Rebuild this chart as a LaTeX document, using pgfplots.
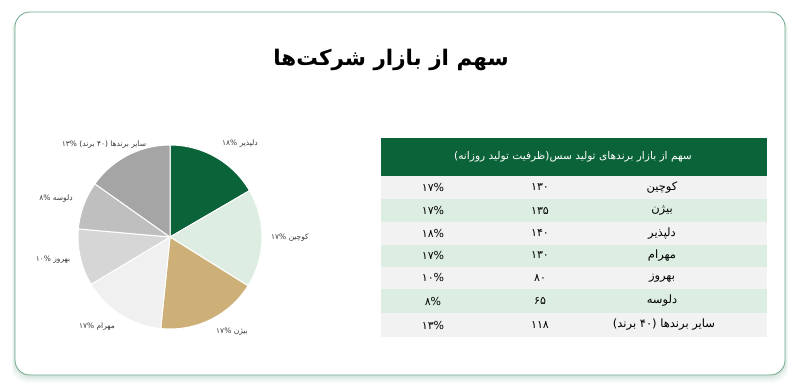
\documentclass[border=0pt]{standalone}
\usepackage{pgfplots}
\pgfplotsset{compat=1.18}
\usepackage{fontspec}
\setmainfont{DejaVu Sans}
\newfontfamily\fa[Script=Arabic]{DejaVu Sans}
\TeXXeTstate=1
\newcommand\lp{{\rmfamily(}}
\newcommand\rp{{\rmfamily)}}
\definecolor{dkgreen}{HTML}{0B6339}
\definecolor{ltgreen}{HTML}{DDEDE2}
\definecolor{tan}{HTML}{CDAF78}
\definecolor{g1}{HTML}{F0F0F0}
\definecolor{g2}{HTML}{D6D6D6}
\definecolor{g3}{HTML}{BFBFBF}
\definecolor{g4}{HTML}{A5A5A5}
\definecolor{rowgray}{HTML}{F2F2F2}
\definecolor{rowgreen}{HTML}{DCEDE2}
\definecolor{cardborder}{HTML}{6FA98A}
\definecolor{labelgray}{HTML}{3A3A3A}
\begin{document}
\begin{tikzpicture}[x=1pt,y=1pt]
\useasboundingbox (0,0) rectangle (800,389);
% card shadow and card
\foreach \i/\o in {8/0.03,6/0.04,4/0.05,2/0.06}{%
  \fill[dkgreen, opacity=\o, rounded corners=16] (15-\i*0.4,14-\i) rectangle (785+\i*0.4,377-\i*0.3);
}
\fill[white, draw=cardborder, line width=0.8pt, rounded corners=15] (15,14) rectangle (785,377);
% title
\node[font=\fa\bfseries\fontsize{21.5}{24}\selectfont] at (391,329) {\beginR سهم از بازار شرکت‌ها\endR};
% pie slice shares (percent of the circle)
\pgfmathsetmacro\aA{90}
\pgfmathsetmacro\aB{\aA-3.6*16.6}
\pgfmathsetmacro\aC{\aB-3.6*17.3}
\pgfmathsetmacro\aD{\aC-3.6*17.7}
\pgfmathsetmacro\aE{\aD-3.6*14.8}
\pgfmathsetmacro\aF{\aE-3.6*10.0}
\pgfmathsetmacro\aG{\aF-3.6*8.4}
\pgfmathsetmacro\aH{\aG-3.6*15.2}
\begin{axis}[at={(170pt,152pt)}, anchor=center, width=184pt, height=184pt,
  scale only axis, xmin=-1, xmax=1, ymin=-1, ymax=1, hide axis, clip=false, no markers]
\addplot[fill=dkgreen, draw=white, line width=1pt, domain=\aB:\aA, samples=60] ({cos(x)},{sin(x)}) -- (0,0) -- cycle;
\addplot[fill=ltgreen, draw=white, line width=1pt, domain=\aC:\aB, samples=60] ({cos(x)},{sin(x)}) -- (0,0) -- cycle;
\addplot[fill=tan, draw=white, line width=1pt, domain=\aD:\aC, samples=60] ({cos(x)},{sin(x)}) -- (0,0) -- cycle;
\addplot[fill=g1, draw=white, line width=1pt, domain=\aE:\aD, samples=60] ({cos(x)},{sin(x)}) -- (0,0) -- cycle;
\addplot[fill=g2, draw=white, line width=1pt, domain=\aF:\aE, samples=60] ({cos(x)},{sin(x)}) -- (0,0) -- cycle;
\addplot[fill=g3, draw=white, line width=1pt, domain=\aG:\aF, samples=60] ({cos(x)},{sin(x)}) -- (0,0) -- cycle;
\addplot[fill=g4, draw=white, line width=1pt, domain=\aH:\aG, samples=60] ({cos(x)},{sin(x)}) -- (0,0) -- cycle;
\end{axis}
% pie labels
\begin{scope}[every node/.style={font=\fa\fontsize{7.5}{9}\selectfont, text=labelgray, inner sep=0pt}]
\node at (240,245) {۱۸\% \beginR دلپذیر\endR};
\node at (290,151) {۱۷\% \beginR کوچین\endR};
\node at (232,57) {۱۷\% \beginR بیژن\endR};
\node at (97,62) {۱۷\% \beginR مهرام\endR};
\node at (53,129) {۱۰\% \beginR بهروز\endR};
\node at (56,190) {۸\% \beginR دلوسه\endR};
\node at (104,244) {۱۳\% \lp\beginR برند\endR{} ۴۰\rp{} \beginR سایر برندها\endR};
\end{scope}
% table
\fill[dkgreen] (381,251.3) rectangle (767,213);
\fill[rowgray]  (381,213) rectangle (767,190);
\fill[rowgreen] (381,190) rectangle (767,167);
\fill[rowgray]  (381,167) rectangle (767,144.5);
\fill[rowgreen] (381,144.5) rectangle (767,122.5);
\fill[rowgray]  (381,122.5) rectangle (767,100);
\fill[rowgreen] (381,100) rectangle (767,76);
\fill[rowgray]  (381,76) rectangle (767,52);
\node[font=\fa\fontsize{10.6}{12}\selectfont, text=white] at (573,232) {\lp\beginR ظرفیت تولید روزانه\endR\rp\beginR سهم از بازار برندهای تولید سس\endR};
\begin{scope}[every node/.style={font=\fa\fontsize{11.5}{13}\selectfont, text=black}]
\node at (662,201.5) {\beginR کوچین\endR};
\node at (662,178.5) {\beginR بیژن\endR};
\node at (662,155.7) {\beginR دلپذیر\endR};
\node at (662,133.5) {\beginR مهرام\endR};
\node at (662,111.2) {\beginR بهروز\endR};
\node at (662,88) {\beginR دلوسه\endR};
\node at (664,64) {\lp\beginR برند\endR{} ۴۰\rp{} \beginR سایر برندها\endR};
\end{scope}
\begin{scope}[every node/.style={font=\fa\fontsize{11}{13}\selectfont, text=black}]
\node at (540,201.5) {۱۳۰};
\node at (433,201.5) {۱۷\%};
\node at (540,178.5) {۱۳۵};
\node at (433,178.5) {۱۷\%};
\node at (540,155.7) {۱۴۰};
\node at (433,155.7) {۱۸\%};
\node at (540,133.5) {۱۳۰};
\node at (433,133.5) {۱۷\%};
\node at (540,111.2) {۸۰};
\node at (433,111.2) {۱۰\%};
\node at (540,88) {۶۵};
\node at (433,88) {۸\%};
\node at (540,64) {۱۱۸};
\node at (433,64) {۱۳\%};
\end{scope}
\end{tikzpicture}
\end{document}
